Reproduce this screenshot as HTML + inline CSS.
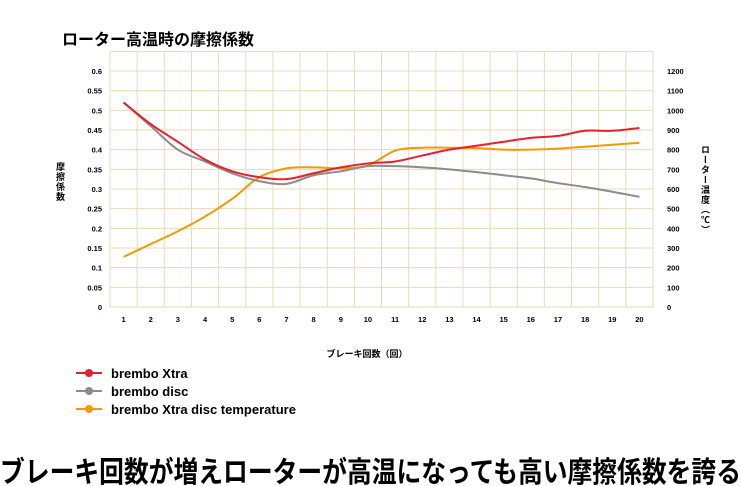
<!DOCTYPE html>
<html><head><meta charset="utf-8"><style>
body{margin:0;background:#fff;}
svg{display:block;font-family:"Liberation Sans","Noto Sans CJK JP",sans-serif;}
</style></head><body>
<svg id="chart" width="741" height="486" viewBox="0 0 741 486">
<text x="62" y="45" font-size="16" font-weight="bold">ローター高温時の摩擦係数</text>
<g id="grid"></g>
<g id="ylab" font-size="7.5" font-weight="bold" text-anchor="end"></g>
<g id="y2lab" font-size="7.5" font-weight="bold" text-anchor="start"></g>
<g id="xlab" font-size="7.5" font-weight="bold" text-anchor="middle"></g>
<text font-size="9" font-weight="bold" writing-mode="tb" x="60" y="162" letter-spacing="1">摩擦係数</text>
<text font-size="9" font-weight="bold" writing-mode="tb" x="705" y="145" letter-spacing="1">ローター温度（℃）</text>
<text x="367" y="357" font-size="9" font-weight="bold" text-anchor="middle">ブレーキ回数（回）</text>
<g id="series"></g>
<g font-size="13" font-weight="bold">
<g><line x1="76" y1="373" x2="102" y2="373" stroke="#e8202a" stroke-width="2"/><circle cx="89" cy="373" r="4" fill="#e8202a"/><text x="111" y="378">brembo Xtra</text></g>
<g><line x1="76" y1="391" x2="102" y2="391" stroke="#8c8c8c" stroke-width="2"/><circle cx="89" cy="391" r="4" fill="#8c8c8c"/><text x="111" y="396">brembo disc</text></g>
<g><line x1="76" y1="409" x2="102" y2="409" stroke="#f59a00" stroke-width="2"/><circle cx="89" cy="409" r="4" fill="#f59a00"/><text x="111" y="414">brembo Xtra disc temperature</text></g>
</g>
<text x="0" y="482" font-size="29" font-weight="bold" textLength="741" lengthAdjust="spacingAndGlyphs">ブレーキ回数が増えローターが高温になっても高い摩擦係数を誇る</text>
</svg>
<script>
const categories=[1,2,3,4,5,6,7,8,9,10,11,12,13,14,15,16,17,18,19,20];
const xtra=[0.52,0.465,0.42,0.375,0.345,0.33,0.325,0.34,0.355,0.365,0.37,0.385,0.40,0.41,0.42,0.43,0.435,0.448,0.448,0.455];
const disc=[0.52,0.46,0.40,0.37,0.34,0.32,0.313,0.335,0.345,0.358,0.358,0.355,0.35,0.343,0.335,0.327,0.315,0.305,0.293,0.28];
const temp=[255,320,385,460,550,660,705,710,705,720,795,810,810,808,800,800,805,815,825,835];
const yTicks=[0,0.05,0.1,0.15,0.2,0.25,0.3,0.35,0.4,0.45,0.5,0.55,0.6];
const y2Ticks=[0,100,200,300,400,500,600,700,800,900,1000,1100,1200];
const NS="http://www.w3.org/2000/svg";
const L=110,R=653,T=51,B=307;
const colW=(R-L)/20;
const x=i=>L+(i-0.5)*colW;
const y=v=>B-v*(B-71)/0.6;
const y2=v=>B-v*(B-71)/1200;
function mk(tag,attrs,parent){const e=document.createElementNS(NS,tag);for(const k in attrs)e.setAttribute(k,attrs[k]);parent.appendChild(e);return e;}
const grid=document.getElementById('grid');
for(let k=0;k<=20;k++){const gl=mk('line',{x1:L+k*colW,x2:L+k*colW,y1:T,y2:B,stroke:'#ecd9b8','stroke-width':1},grid);}
for(let k=0;k<=13;k++){const v=k*0.05;const gl=mk('line',{x1:L,x2:R,y1:y(v),y2:y(v),stroke:'#ecd9b8','stroke-width':1},grid);}
const yl=document.getElementById('ylab');
yTicks.forEach(v=>{const t=mk('text',{x:102,y:y(v)+3},yl);t.textContent=String(+v.toFixed(2));});
const y2l=document.getElementById('y2lab');
y2Ticks.forEach(v=>{const t=mk('text',{x:667,y:y2(v)+3},y2l);t.textContent=v;});
const xl=document.getElementById('xlab');
categories.forEach((c,i)=>{const t=mk('text',{x:x(i+1),y:322},xl);t.textContent=c;});
function smooth(pts){let d='M'+pts[0][0]+','+pts[0][1];for(let i=0;i<pts.length-1;i++){const p0=pts[i-1]||pts[i],p1=pts[i],p2=pts[i+1],p3=pts[i+2]||p2;const c1=[p1[0]+(p2[0]-p0[0])/6,p1[1]+(p2[1]-p0[1])/6],c2=[p2[0]-(p3[0]-p1[0])/6,p2[1]-(p3[1]-p1[1])/6];d+=' C'+c1+' '+c2+' '+p2;}return d;}
const sg=document.getElementById('series');
const p1=mk('path',{d:smooth(temp.map((v,i)=>[x(i+1),y2(v)])),fill:'none',stroke:'#f59a00','stroke-width':2},sg);

const p2=mk('path',{d:smooth(disc.map((v,i)=>[x(i+1),y(v)])),fill:'none',stroke:'#8c8c8c','stroke-width':2},sg);

const p3=mk('path',{d:smooth(xtra.map((v,i)=>[x(i+1),y(v)])),fill:'none',stroke:'#e8202a','stroke-width':2},sg);

</script>
</body></html>
